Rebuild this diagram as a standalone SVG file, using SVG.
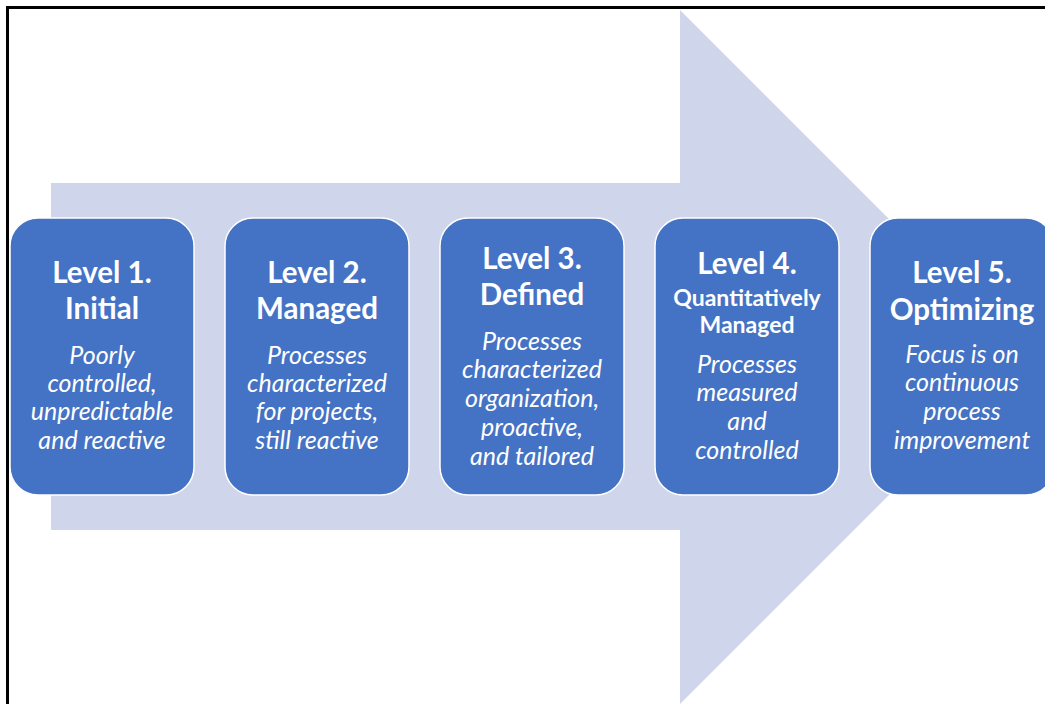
<svg xmlns="http://www.w3.org/2000/svg" width="1045" height="704" viewBox="0 0 1045 704">
<style>
.box{fill:#4472C4;stroke:#FFFFFF;stroke-width:1.5}
.t{font-family:Lato,"Liberation Sans",sans-serif;font-weight:bold;font-size:29.5px;fill:#FFFFFF;text-anchor:middle}
.ts{font-family:Lato,"Liberation Sans",sans-serif;font-weight:bold;font-size:23px;fill:#FFFFFF;text-anchor:middle}
.d{font-family:Lato,"Liberation Sans",sans-serif;font-style:italic;font-size:25px;fill:#FFFFFF;text-anchor:middle}
</style>
<rect width="1045" height="704" fill="#FFFFFF"/>
<path d="M7.5,704 V7.5 H1045" fill="none" stroke="#000000" stroke-width="3"/>
<g id="arrow">
<polygon points="51,183 680,183 680,10 1027,357 680,704 680,530 51,530" fill="#CFD5EA"/>
</g>
<g id="connectors"></g>
<g id="level1">
<rect class="box" x="10" y="218" width="184" height="277" rx="28"/>
<text class="t" x="102" y="283">Level 1.</text>
<text class="t" x="102" y="319">Initial</text>
<text class="d" x="102" y="364">Poorly</text>
<text class="d" x="102" y="392">controlled,</text>
<text class="d" x="102" y="420">unpredictable</text>
<text class="d" x="102" y="449">and reactive</text>
</g>
<g id="level2">
<rect class="box" x="225" y="218" width="184" height="277" rx="28"/>
<text class="t" x="317" y="283">Level 2.</text>
<text class="t" x="317" y="319">Managed</text>
<text class="d" x="317" y="364">Processes</text>
<text class="d" x="317" y="392">characterized</text>
<text class="d" x="317" y="420">for projects,</text>
<text class="d" x="317" y="449">still reactive</text>
</g>
<g id="level3">
<rect class="box" x="440" y="218" width="184" height="277" rx="28"/>
<text class="t" x="532" y="269">Level 3.</text>
<text class="t" x="532" y="305">Defined</text>
<text class="d" x="532" y="350">Processes</text>
<text class="d" x="532" y="378">characterized</text>
<text class="d" x="532" y="407">organization,</text>
<text class="d" x="532" y="436">proactive,</text>
<text class="d" x="532" y="465">and tailored</text>
</g>
<g id="level4">
<rect class="box" x="655" y="218" width="184" height="277" rx="28"/>
<text class="t" x="747" y="274">Level 4.</text>
<text class="ts" x="747" y="306">Quantitatively</text>
<text class="ts" x="747" y="333">Managed</text>
<text class="d" x="747" y="373">Processes</text>
<text class="d" x="747" y="401">measured</text>
<text class="d" x="747" y="430">and</text>
<text class="d" x="747" y="459">controlled</text>
</g>
<g id="level5">
<rect class="box" x="870" y="218" width="184" height="277" rx="28"/>
<text class="t" x="962" y="283">Level 5.</text>
<text class="t" x="962" y="320">Optimizing</text>
<text class="d" x="962" y="363">Focus is on</text>
<text class="d" x="962" y="391">continuous</text>
<text class="d" x="962" y="420">process</text>
<text class="d" x="962" y="449">improvement</text>
</g>
</svg>
